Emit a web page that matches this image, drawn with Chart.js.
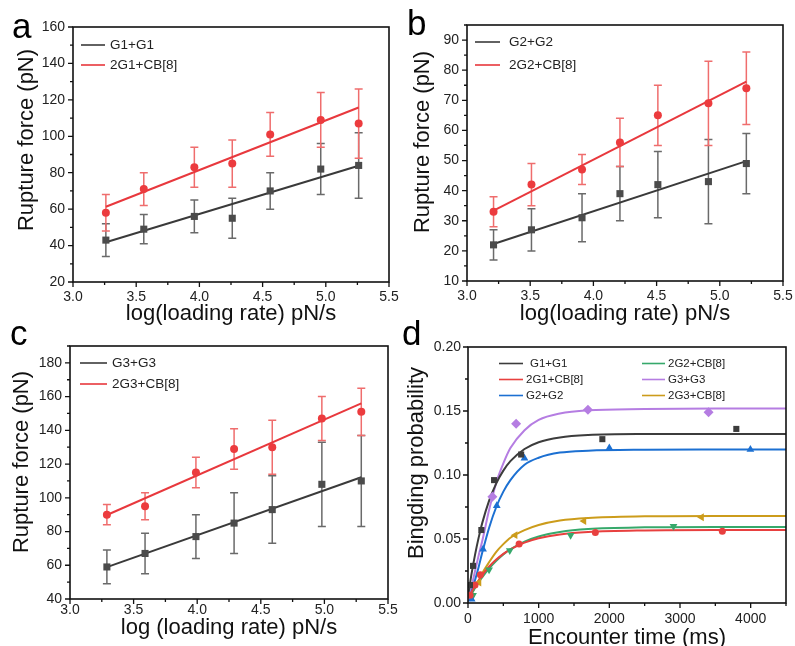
<!DOCTYPE html>
<html>
<head>
<meta charset="utf-8">
<script src="https://cdn.jsdelivr.net/npm/chart.js@4.4.1/dist/chart.umd.min.js"></script>
<style>
html,body{margin:0;padding:0;background:#fff;}
body{width:795px;height:646px;position:relative;overflow:hidden;}
canvas{position:absolute;}
</style>
</head>
<body>
<canvas id="cc" width="400" height="326" style="left:0;top:320px"></canvas>
<canvas id="cd" width="398" height="326" style="left:397px;top:320px"></canvas>
<canvas id="ca" width="400" height="330" style="left:0;top:0"></canvas>
<canvas id="cb" width="398" height="330" style="left:397px;top:0"></canvas>
<script>
// ---------------- data ----------------
// panel a
const aNames = ['G1+G1', '2G1+CB[8]'];
const aX = [3.26, 3.56, 3.96, 4.26, 4.56, 4.96, 5.26];
const aHomo = [43, 49, 56, 55, 70, 82, 84];
const aHomoErr = [9, 8, 9, 11, 10, 14, 18];
const aCB = [58, 71, 83, 85, 101, 109, 107];
const aCBErr = [10, 9, 11, 13, 12, 15, 19];
const aFitX = [3.26, 5.26];
const aFitHomo = [41.8, 83.8];
const aFitCB = [61.3, 115.8];
const aXTicks = [3.0, 3.5, 4.0, 4.5, 5.0, 5.5];
const aYTicks = [20, 40, 60, 80, 100, 120, 140, 160];

// panel b
const bNames = ['G2+G2', '2G2+CB[8]'];
const bX = [3.21, 3.51, 3.91, 4.21, 4.51, 4.91, 5.21];
const bHomo = [22, 27, 31, 39, 42, 43, 49];
const bHomoErr = [5, 7, 8, 9, 11, 14, 10];
const bCB = [33, 42, 47, 56, 65, 69, 74];
const bCBErr = [5, 7, 5, 8, 10, 14, 12];
const bFitX = [3.21, 5.21];
const bFitHomo = [22.3, 49.8];
const bFitCB = [33.4, 76.2];
const bXTicks = [3.0, 3.5, 4.0, 4.5, 5.0, 5.5];
const bYTicks = [10, 20, 30, 40, 50, 60, 70, 80, 90];

// panel c
const cNames = ['G3+G3', '2G3+CB[8]'];
const cX = [3.29, 3.59, 3.99, 4.29, 4.59, 4.98, 5.29];
const cHomo = [59, 67, 77, 85, 93, 108, 110];
const cHomoErr = [10, 12, 13, 18, 20, 25, 27];
const cCB = [90, 95, 115, 129, 130, 147, 151];
const cCBErr = [6, 8, 9, 12, 16, 13, 14];
const cFitX = [3.29, 5.29];
const cFitHomo = [58.9, 112.2];
const cFitCB = [89.8, 156];
const cXTicks = [3.0, 3.5, 4.0, 4.5, 5.0, 5.5];
const cYTicks = [40, 60, 80, 100, 120, 140, 160, 180];

// panel d
const dNames = ['G1+G1', '2G1+CB[8]', 'G2+G2', '2G2+CB[8]', 'G3+G3', '2G3+CB[8]'];
const dG1T = [28, 71, 189, 369, 752, 1901, 3797];
const dG1P = [0.014, 0.029, 0.057, 0.096, 0.116, 0.128, 0.136];
const dG1CBT = [30, 99, 175, 723, 1802, 3599];
const dG1CBP = [0.006, 0.014, 0.022, 0.046, 0.055, 0.056];
const dG2T = [52, 213, 407, 799, 2000, 3996];
const dG2P = [0.003, 0.042, 0.076, 0.113, 0.121, 0.120];
const dG2CBT = [71, 298, 591, 1452, 2908];
const dG2CBP = [0.006, 0.026, 0.041, 0.053, 0.060];
const dG3T = [30, 345, 681, 1697, 3404];
const dG3P = [0.005, 0.083, 0.140, 0.151, 0.149];
const dG3CBT = [40, 156, 667, 1641, 3305];
const dG3CBP = [0.005, 0.016, 0.053, 0.064, 0.067];
// fitted curves
const dFitT = [0, 50, 100, 150, 200, 300, 400, 500, 600, 800, 1000, 1300, 1700, 2500, 3500, 4500];
const dFitG1 = [0.005, 0.0227, 0.0378, 0.0509, 0.0622, 0.0802, 0.0935, 0.1034, 0.1108, 0.1203, 0.1256, 0.1293, 0.1312, 0.132, 0.1321, 0.1321];
const dFitG1CB = [0.003, 0.0085, 0.0134, 0.0177, 0.0217, 0.0285, 0.0339, 0.0384, 0.0419, 0.0472, 0.0506, 0.0536, 0.0555, 0.0567, 0.057, 0.057];
const dFitG2 = [0.002, 0.009, 0.018, 0.028, 0.039, 0.059, 0.075, 0.087, 0.096, 0.108, 0.1135, 0.1175, 0.119, 0.1198, 0.12, 0.12];
const dFitG2CB = [0.002, 0.007, 0.012, 0.016, 0.02, 0.027, 0.033, 0.038, 0.042, 0.048, 0.052, 0.0555, 0.0578, 0.0591, 0.0594, 0.0594];
const dFitG3 = [0.004, 0.013, 0.025, 0.037, 0.048, 0.073, 0.094, 0.109, 0.121, 0.135, 0.143, 0.148, 0.1505, 0.1515, 0.152, 0.152];
const dFitG3CB = [0.002, 0.007, 0.012, 0.017, 0.023, 0.032, 0.04, 0.046, 0.051, 0.057, 0.061, 0.0645, 0.0665, 0.0677, 0.068, 0.068];
const dXTicks = [0, 1000, 2000, 3000, 4000];
const dYTicks = [0, 0.05, 0.10, 0.15, 0.20];

// ---------------- styles ----------------
const FONT = '"Liberation Sans", Arial, Helvetica, sans-serif';
Chart.defaults.font.family = FONT;
Chart.defaults.font.size = 14;
Chart.defaults.color = '#222';

const BLK_LINE = '#3a3a3a', BLK_MARK = '#4b4b4b', BLK_ERR = '#6a6a6a';
const RED_LINE = '#e8383d', RED_MARK = '#ec3b3e', RED_ERR = '#ef6d6d';
const D_COL = ['#3c3c3c', '#e8403f', '#1c70d2', '#36a96b', '#b57de2', '#cc9c1b'];

const pts = (xs, ys) => xs.map((x, i) => ({x: x, y: ys[i]}));

const decor = {
  id: 'decor',
  beforeDatasetsDraw(chart) {
    const ctx = chart.ctx, xs = chart.scales.x, ys = chart.scales.y;
    chart.data.datasets.forEach(ds => {
      if (!ds.errorBars) return;
      ctx.save();
      ctx.strokeStyle = ds.errorColor;
      ctx.lineWidth = 1.5;
      ctx.beginPath();
      ds.data.forEach((p, i) => {
        const e = ds.errorBars[i];
        const px = xs.getPixelForValue(p.x);
        const y1 = ys.getPixelForValue(p.y + e), y2 = ys.getPixelForValue(p.y - e);
        ctx.moveTo(px, y1); ctx.lineTo(px, y2);
        ctx.moveTo(px - 4, y1); ctx.lineTo(px + 4, y1);
        ctx.moveTo(px - 4, y2); ctx.lineTo(px + 4, y2);
      });
      ctx.stroke();
      ctx.restore();
    });
  },
  afterDraw(chart, args, o) {
    const ctx = chart.ctx, a = chart.chartArea, xs = chart.scales.x, ys = chart.scales.y;
    ctx.save();
    ctx.strokeStyle = '#111';
    ctx.lineWidth = 1.6;
    ctx.strokeRect(a.left, a.top, a.right - a.left, a.bottom - a.top);
    ctx.lineWidth = 1.3;
    ctx.beginPath();
    xs.ticks.forEach(t => { const px = xs.getPixelForValue(t.value); ctx.moveTo(px, a.bottom); ctx.lineTo(px, a.bottom + 5); });
    ys.ticks.forEach(t => { const py = ys.getPixelForValue(t.value); ctx.moveTo(a.left, py); ctx.lineTo(a.left - 5, py); });
    let n = Math.round((xs.max - xs.min) / o.xMinor);
    for (let k = 0; k <= n; k++) { const px = xs.getPixelForValue(xs.min + k * o.xMinor); ctx.moveTo(px, a.bottom); ctx.lineTo(px, a.bottom + 3); }
    n = Math.round((ys.max - ys.min) / o.yMinor);
    for (let k = 0; k <= n; k++) { const py = ys.getPixelForValue(ys.min + k * o.yMinor); ctx.moveTo(a.left, py); ctx.lineTo(a.left - 3, py); }
    ctx.stroke();
    // axis titles
    ctx.fillStyle = '#111';
    ctx.font = '22px ' + FONT;
    ctx.textAlign = 'center';
    ctx.textBaseline = 'alphabetic';
    ctx.fillText(o.xTitle, (a.left + a.right) / 2, o.xTitleY);
    ctx.save();
    ctx.translate(o.yTitleX, o.yTitleY);
    ctx.rotate(-Math.PI / 2);
    ctx.textBaseline = 'middle';
    ctx.fillText(o.yTitle, 0, 0);
    ctx.restore();
    // panel letter
    ctx.font = '35px ' + FONT;
    ctx.textAlign = 'left';
    ctx.fillStyle = '#000';
    ctx.fillText(o.letter, o.letterX, o.letterY);
    // legend
    ctx.font = o.legendFont + 'px ' + FONT;
    ctx.textBaseline = 'middle';
    o.legend.forEach(it => {
      ctx.strokeStyle = it.color;
      ctx.lineWidth = 1.6;
      ctx.beginPath();
      ctx.moveTo(it.x1, it.y); ctx.lineTo(it.x2, it.y);
      ctx.stroke();
      ctx.fillStyle = '#222';
      ctx.fillText(it.label, it.tx, it.y + 0.5);
    });
    ctx.restore();
  }
};

function axis(ticksArr, min, max, dec, size, pad, isY) {
  return {
    type: 'linear', min: min, max: max,
    grid: {display: false, drawTicks: false},
    border: {display: false},
    ticks: {padding: pad, color: '#222', font: {size: 14}, maxRotation: 0, autoSkip: false,
            callback: v => Number(v).toFixed(dec)},
    afterBuildTicks: s => { s.ticks = ticksArr.map(v => ({value: v})); },
    afterFit: s => {
      if (isY) { s.width = size; }
      else { s.height = size; s.paddingLeft = 0; s.paddingRight = 0; }
    }
  };
}

function forcePanel(id, names, X, homo, homoErr, cb, cbErr, fitX, fitHomo, fitCB, xt, yt, ymin, ymax, yMinor, cfg) {
  new Chart(document.getElementById(id), {
    type: 'scatter',
    data: {datasets: [
      {label: names[0], data: pts(X, homo), errorBars: homoErr, errorColor: BLK_ERR,
       pointStyle: 'rect', pointRadius: 5, backgroundColor: BLK_MARK, borderColor: BLK_MARK, borderWidth: 0, order: 1},
      {label: names[1], data: pts(X, cb), errorBars: cbErr, errorColor: RED_ERR,
       pointStyle: 'circle', pointRadius: 4, backgroundColor: RED_MARK, borderColor: RED_MARK, borderWidth: 0, order: 1},
      {label: names[0] + ' fit', data: pts(fitX, fitHomo), showLine: true, pointRadius: 0,
       borderColor: BLK_LINE, borderWidth: 2, order: 2},
      {label: names[1] + ' fit', data: pts(fitX, fitCB), showLine: true, pointRadius: 0,
       borderColor: RED_LINE, borderWidth: 2, order: 2}
    ]},
    options: {
      responsive: false, animation: false, events: [],
      layout: {padding: {left: 0, top: cfg.top, right: cfg.right, bottom: 0}},
      scales: {
        x: axis(xt, 3.0, 5.5, 1, cfg.xh, cfg.xpad, false),
        y: axis(yt, ymin, ymax, 0, cfg.yw, 8, true)
      },
      plugins: {
        legend: {display: false}, tooltip: {enabled: false},
        decor: {
          xMinor: 0.25, yMinor: yMinor,
          xTitle: cfg.xTitle, xTitleY: cfg.xTitleY,
          yTitle: 'Rupture force (pN)', yTitleX: cfg.yTitleX, yTitleY: cfg.yTitleY,
          letter: cfg.letter, letterX: cfg.letterX, letterY: cfg.letterY,
          legendFont: 13.5,
          legend: [
            {label: names[0], color: BLK_LINE, x1: cfg.lx1, x2: cfg.lx2, tx: cfg.tx, y: cfg.ly1},
            {label: names[1], color: RED_LINE, x1: cfg.lx1, x2: cfg.lx2, tx: cfg.tx, y: cfg.ly2}
          ]
        }
      }
    },
    plugins: [decor]
  });
}

forcePanel('ca', aNames, aX, aHomo, aHomoErr, aCB, aCBErr, aFitX, aFitHomo, aFitCB, aXTicks, aYTicks, 20, 160, 10,
  {top: 27, right: 11, xh: 48, yw: 73, xpad: 7, xTitle: 'log(loading rate) pN/s', xTitleY: 320,
   yTitleX: 27, yTitleY: 140, letter: 'a', letterX: 12, letterY: 38,
   lx1: 81, lx2: 105, tx: 110, ly1: 45, ly2: 65});
forcePanel('cb', bNames, bX, bHomo, bHomoErr, bCB, bCBErr, bFitX, bFitHomo, bFitCB, bXTicks, bYTicks, 10, 95, 5,
  {top: 25, right: 12, xh: 49, yw: 70, xpad: 7, xTitle: 'log(loading rate) pN/s', xTitleY: 320,
   yTitleX: 26, yTitleY: 142, letter: 'b', letterX: 10, letterY: 35,
   lx1: 78, lx2: 103, tx: 112, ly1: 42, ly2: 65});
forcePanel('cc', cNames, cX, cHomo, cHomoErr, cCB, cCBErr, cFitX, cFitHomo, cFitCB, cXTicks, cYTicks, 40, 190, 10,
  {top: 26, right: 12, xh: 47, yw: 70, xpad: 3, xTitle: 'log (loading rate) pN/s', xTitleY: 314,
   yTitleX: 22, yTitleY: 142, letter: 'c', letterX: 10, letterY: 25,
   lx1: 80, lx2: 107, tx: 112, ly1: 43, ly2: 64});

// panel d
const dMarks = [
  {t: dG1T, p: dG1P, style: 'rect', r: 4.3, rot: 0},
  {t: dG1CBT, p: dG1CBP, style: 'circle', r: 3.5, rot: 0},
  {t: dG2T, p: dG2P, style: 'triangle', r: 4.5, rot: 0},
  {t: dG2CBT, p: dG2CBP, style: 'triangle', r: 4.5, rot: 180},
  {t: dG3T, p: dG3P, style: 'rectRot', r: 5, rot: 0},
  {t: dG3CBT, p: dG3CBP, style: 'triangle', r: 4.5, rot: 270}
];
const dFits = [dFitG1, dFitG1CB, dFitG2, dFitG2CB, dFitG3, dFitG3CB];
const dSets = [];
dMarks.forEach((m, i) => {
  dSets.push({label: dNames[i], data: pts(m.t, m.p), pointStyle: m.style, pointRadius: m.r, rotation: m.rot,
    backgroundColor: D_COL[i], borderColor: D_COL[i], borderWidth: 0, order: 1});
});
dFits.forEach((f, i) => {
  dSets.push({label: dNames[i] + ' fit', data: pts(dFitT, f), showLine: true, pointRadius: 0,
    borderColor: D_COL[i], borderWidth: 2, cubicInterpolationMode: 'monotone', order: 2});
});
new Chart(document.getElementById('cd'), {
  type: 'scatter',
  data: {datasets: dSets},
  options: {
    responsive: false, animation: false, events: [],
    layout: {padding: {left: 0, top: 27, right: 9, bottom: 0}},
    scales: {
      x: axis(dXTicks, 0, 4500, 0, 43, 8, false),
      y: axis(dYTicks, 0, 0.2, 2, 71, 7, true)
    },
    plugins: {
      legend: {display: false}, tooltip: {enabled: false},
      decor: {
        xMinor: 500, yMinor: 0.025,
        xTitle: 'Encounter time (ms)', xTitleY: 324,
        yTitle: 'Bingding probability', yTitleX: 19.5, yTitleY: 143,
        letter: 'd', letterX: 5, letterY: 25,
        legendFont: 11.5,
        legend: [
          {label: dNames[0], color: D_COL[0], x1: 102, x2: 126, tx: 133, y: 43.5},
          {label: dNames[1], color: D_COL[1], x1: 102, x2: 126, tx: 129, y: 59.5},
          {label: dNames[2], color: D_COL[2], x1: 102, x2: 126, tx: 129, y: 75.5},
          {label: dNames[3], color: D_COL[3], x1: 245, x2: 268, tx: 271, y: 43.5},
          {label: dNames[4], color: D_COL[4], x1: 245, x2: 268, tx: 271, y: 59.5},
          {label: dNames[5], color: D_COL[5], x1: 245, x2: 268, tx: 271, y: 75.5}
        ]
      }
    }
  },
  plugins: [decor]
});
</script>
</body>
</html>
